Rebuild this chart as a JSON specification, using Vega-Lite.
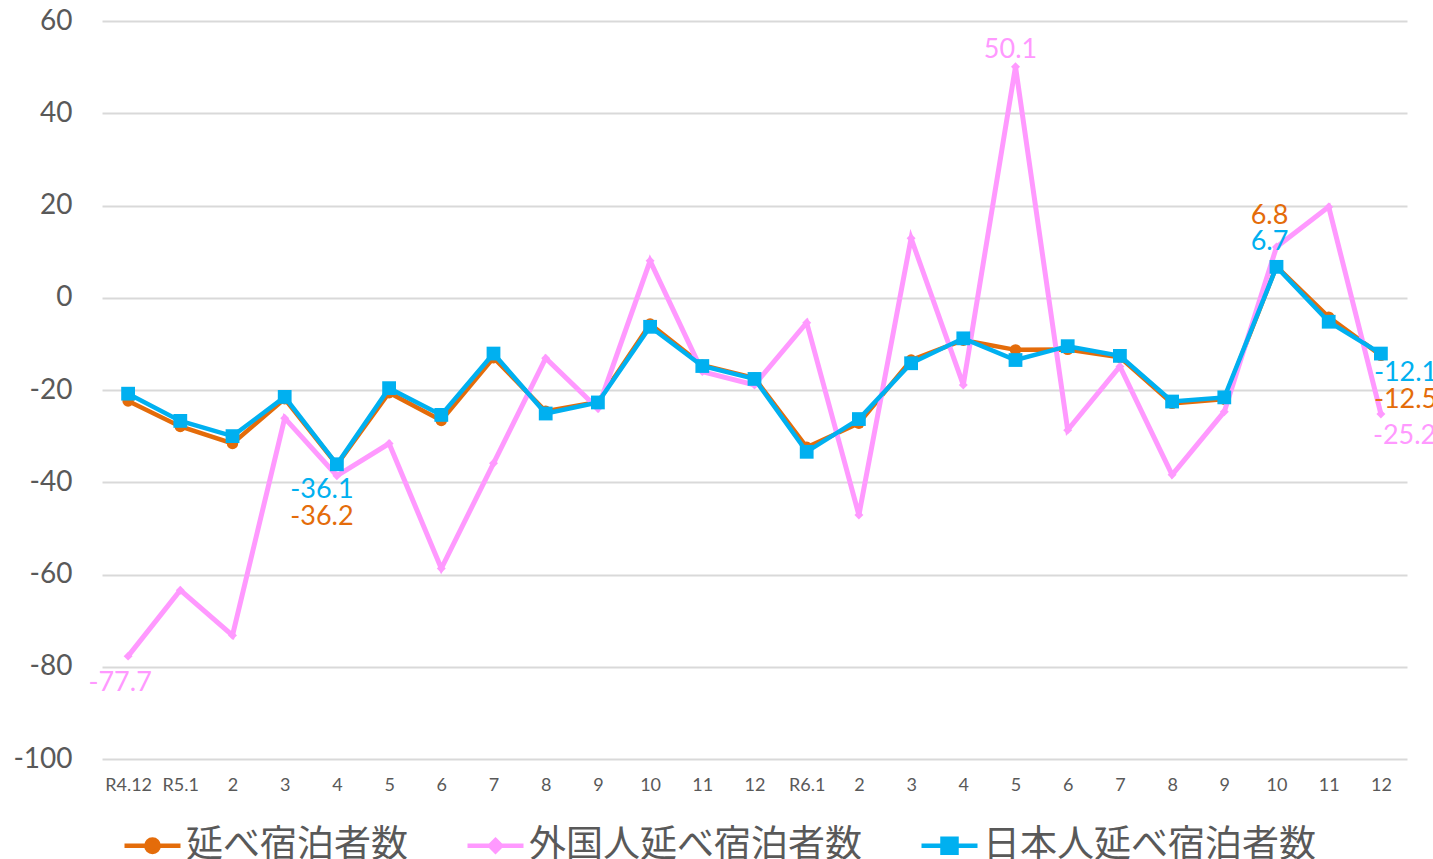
{
  "$schema": "https://vega.github.io/schema/vega-lite/v6.json",
  "width": 1305,
  "height": 738,
  "autosize": {"type": "none"},
  "padding": {"left": 102, "top": 21, "right": 26, "bottom": 100},
  "background": "white",
  "config": {"view": {"stroke": null}},
  "datasets": {
    "note": [{"note": "※数値は最新月、各年最高値、各年最低値を記載"}]
  },
  "data": {"values": [
    {"m": "R4.12", "s": "延べ宿泊者数", "v": -22.4},
    {"m": "R5.1", "s": "延べ宿泊者数", "v": -27.9},
    {"m": "R5.2", "s": "延べ宿泊者数", "v": -31.6},
    {"m": "R5.3", "s": "延べ宿泊者数", "v": -21.9},
    {"m": "R5.4", "s": "延べ宿泊者数", "v": -36.2},
    {"m": "R5.5", "s": "延べ宿泊者数", "v": -20.6},
    {"m": "R5.6", "s": "延べ宿泊者数", "v": -26.6},
    {"m": "R5.7", "s": "延べ宿泊者数", "v": -13.0},
    {"m": "R5.8", "s": "延べ宿泊者数", "v": -24.6},
    {"m": "R5.9", "s": "延べ宿泊者数", "v": -22.6},
    {"m": "R5.10", "s": "延べ宿泊者数", "v": -5.7},
    {"m": "R5.11", "s": "延べ宿泊者数", "v": -14.6},
    {"m": "R5.12", "s": "延べ宿泊者数", "v": -17.4},
    {"m": "R6.1", "s": "延べ宿泊者数", "v": -32.4},
    {"m": "R6.2", "s": "延べ宿泊者数", "v": -27.2},
    {"m": "R6.3", "s": "延べ宿泊者数", "v": -13.5},
    {"m": "R6.4", "s": "延べ宿泊者数", "v": -9.2},
    {"m": "R6.5", "s": "延べ宿泊者数", "v": -11.3},
    {"m": "R6.6", "s": "延べ宿泊者数", "v": -11.2},
    {"m": "R6.7", "s": "延べ宿泊者数", "v": -12.9},
    {"m": "R6.8", "s": "延べ宿泊者数", "v": -22.9},
    {"m": "R6.9", "s": "延べ宿泊者数", "v": -22.0},
    {"m": "R6.10", "s": "延べ宿泊者数", "v": 6.8},
    {"m": "R6.11", "s": "延べ宿泊者数", "v": -4.2},
    {"m": "R6.12", "s": "延べ宿泊者数", "v": -12.5},
    {"m": "R4.12", "s": "外国人延べ宿泊者数", "v": -77.7},
    {"m": "R5.1", "s": "外国人延べ宿泊者数", "v": -63.4},
    {"m": "R5.2", "s": "外国人延べ宿泊者数", "v": -73.2},
    {"m": "R5.3", "s": "外国人延べ宿泊者数", "v": -26.1},
    {"m": "R5.4", "s": "外国人延べ宿泊者数", "v": -38.6},
    {"m": "R5.5", "s": "外国人延べ宿泊者数", "v": -31.6},
    {"m": "R5.6", "s": "外国人延べ宿泊者数", "v": -58.7},
    {"m": "R5.7", "s": "外国人延べ宿泊者数", "v": -35.9},
    {"m": "R5.8", "s": "外国人延べ宿泊者数", "v": -13.1},
    {"m": "R5.9", "s": "外国人延べ宿泊者数", "v": -24.0},
    {"m": "R5.10", "s": "外国人延べ宿泊者数", "v": 8.0},
    {"m": "R5.11", "s": "外国人延べ宿泊者数", "v": -16.0},
    {"m": "R5.12", "s": "外国人延べ宿泊者数", "v": -18.9},
    {"m": "R6.1", "s": "外国人延べ宿泊者数", "v": -5.4},
    {"m": "R6.2", "s": "外国人延べ宿泊者数", "v": -47.1},
    {"m": "R6.3", "s": "外国人延べ宿泊者数", "v": 12.9},
    {"m": "R6.4", "s": "外国人延べ宿泊者数", "v": -18.9},
    {"m": "R6.5", "s": "外国人延べ宿泊者数", "v": 50.1},
    {"m": "R6.6", "s": "外国人延べ宿泊者数", "v": -28.7},
    {"m": "R6.7", "s": "外国人延べ宿泊者数", "v": -14.9},
    {"m": "R6.8", "s": "外国人延べ宿泊者数", "v": -38.4},
    {"m": "R6.9", "s": "外国人延べ宿泊者数", "v": -24.7},
    {"m": "R6.10", "s": "外国人延べ宿泊者数", "v": 11.0},
    {"m": "R6.11", "s": "外国人延べ宿泊者数", "v": 19.7},
    {"m": "R6.12", "s": "外国人延べ宿泊者数", "v": -25.2},
    {"m": "R4.12", "s": "日本人延べ宿泊者数", "v": -20.8},
    {"m": "R5.1", "s": "日本人延べ宿泊者数", "v": -26.7},
    {"m": "R5.2", "s": "日本人延べ宿泊者数", "v": -30.0},
    {"m": "R5.3", "s": "日本人延べ宿泊者数", "v": -21.5},
    {"m": "R5.4", "s": "日本人延べ宿泊者数", "v": -36.1},
    {"m": "R5.5", "s": "日本人延べ宿泊者数", "v": -19.6},
    {"m": "R5.6", "s": "日本人延べ宿泊者数", "v": -25.4},
    {"m": "R5.7", "s": "日本人延べ宿泊者数", "v": -12.1},
    {"m": "R5.8", "s": "日本人延べ宿泊者数", "v": -25.1},
    {"m": "R5.9", "s": "日本人延べ宿泊者数", "v": -22.7},
    {"m": "R5.10", "s": "日本人延べ宿泊者数", "v": -6.3},
    {"m": "R5.11", "s": "日本人延べ宿泊者数", "v": -14.8},
    {"m": "R5.12", "s": "日本人延べ宿泊者数", "v": -17.6},
    {"m": "R6.1", "s": "日本人延べ宿泊者数", "v": -33.4},
    {"m": "R6.2", "s": "日本人延べ宿泊者数", "v": -26.3},
    {"m": "R6.3", "s": "日本人延べ宿泊者数", "v": -14.2},
    {"m": "R6.4", "s": "日本人延べ宿泊者数", "v": -8.8},
    {"m": "R6.5", "s": "日本人延べ宿泊者数", "v": -13.5},
    {"m": "R6.6", "s": "日本人延べ宿泊者数", "v": -10.5},
    {"m": "R6.7", "s": "日本人延べ宿泊者数", "v": -12.6},
    {"m": "R6.8", "s": "日本人延べ宿泊者数", "v": -22.5},
    {"m": "R6.9", "s": "日本人延べ宿泊者数", "v": -21.6},
    {"m": "R6.10", "s": "日本人延べ宿泊者数", "v": 6.7},
    {"m": "R6.11", "s": "日本人延べ宿泊者数", "v": -5.2},
    {"m": "R6.12", "s": "日本人延べ宿泊者数", "v": -12.1}
  ]},
  "encoding": {
    "x": {
      "field": "m",
      "type": "ordinal",
      "scale": {
        "type": "point",
        "padding": 0.5,
        "domain": ["R4.12","R5.1","R5.2","R5.3","R5.4","R5.5","R5.6","R5.7","R5.8","R5.9","R5.10","R5.11","R5.12","R6.1","R6.2","R6.3","R6.4","R6.5","R6.6","R6.7","R6.8","R6.9","R6.10","R6.11","R6.12"]
      },
      "axis": {
        "title": null,
        "domain": false,
        "ticks": false,
        "grid": false,
        "labelAngle": 0,
        "labelFont": "Lato",
        "labelFontSize": 18,
        "labelColor": "#595959",
        "labelBaseline": "middle",
        "labelPadding": 26,
        "labelExpr": "datum.value == 'R4.12' || slice(datum.value, -2) == '.1' ? datum.value : split(datum.value, '.')[1]"
      }
    },
    "y": {
      "field": "v",
      "type": "quantitative",
      "scale": {"domain": [-100, 60], "nice": false, "zero": false},
      "axis": {
        "title": null,
        "domain": false,
        "ticks": false,
        "values": [-100, -80, -60, -40, -20, 0, 20, 40, 60],
        "grid": true,
        "gridColor": "#D9D9D9",
        "gridWidth": 2,
        "labelFont": "Lato",
        "labelFontSize": 28,
        "labelColor": "#595959",
        "labelPadding": 30,
        "labelExpr": "replace(datum.label, '−', '-')"
      }
    }
  },
  "layer": [
    {
      "transform": [{"filter": "datum.s == '延べ宿泊者数'"}],
      "mark": {"type": "line", "strokeWidth": 4.5, "point": {"shape": "circle", "size": 130, "filled": true}},
      "encoding": {
        "color": {
          "field": "s",
          "type": "nominal",
          "scale": {
            "domain": ["延べ宿泊者数", "外国人延べ宿泊者数", "日本人延べ宿泊者数"],
            "range": ["#E46C0A", "#FF99FF", "#00B0F0"]
          },
          "legend": {
            "title": null,
            "orient": "none",
            "direction": "horizontal",
            "legendX": 20,
            "legendY": 794,
            "columnPadding": 50,
            "labelOffset": 3,
            "labelFont": "Noto Sans CJK JP",
            "labelFontSize": 37,
            "labelColor": "#595959",
            "labelLimit": 600,
            "symbolSize": 3136,
            "symbolStrokeWidth": 4.5,
            "symbolType": "M-1,0H1M-0.25,-0.25H0.25V0.25H-0.25Z",
            "encode": {
              "symbols": {
                "update": {
                  "fill": {"scale": "color", "field": "value"},
                  "stroke": {"scale": "color", "field": "value"},
                  "shape": {"signal": "datum.value == '延べ宿泊者数' ? 'M-1,0H1M0.22,0A0.22,0.22,0,1,1,-0.22,0A0.22,0.22,0,1,1,0.22,0Z' : datum.value == '外国人延べ宿泊者数' ? 'M-1,0H1M0,-0.2L0.2,0L0,0.2L-0.2,0Z' : 'M-1,0H1M-0.25,-0.25H0.25V0.25H-0.25Z'"}
                }
              }
            }
          }
        }
      }
    },
    {
      "transform": [{"filter": "datum.s == '外国人延べ宿泊者数'"}],
      "mark": {"type": "line", "strokeWidth": 5, "point": {"shape": "diamond", "size": 80, "filled": true}},
      "encoding": {"color": {"field": "s", "type": "nominal"}}
    },
    {
      "transform": [{"filter": "datum.s == '日本人延べ宿泊者数'"}],
      "mark": {"type": "line", "strokeWidth": 4.5, "point": {"shape": "square", "size": 190, "filled": true}},
      "encoding": {"color": {"field": "s", "type": "nominal"}}
    },
    {
      "data": {"name": "note"},
      "mark": {"type": "text", "font": "Noto Sans CJK JP", "fontSize": 25, "fill": "#000000", "opacity": 1, "align": "right", "baseline": "alphabetic", "dx": -30, "dy": 6, "clip": false},
      "encoding": {
        "x": {"datum": "R6.12"},
        "y": {"datum": 60},
        "text": {"field": "note", "type": "nominal"}
      }
    },
    {
      "transform": [{"filter": "datum.s == '外国人延べ宿泊者数' && datum.m == 'R4.12'"}],
      "mark": {"type": "text", "font": "Lato", "fontSize": 27, "color": "#FF99FF", "align": "center", "baseline": "middle", "dx": -8, "dy": 27, "text": {"expr": "replace(format(datum.v, '.1f'), '−', '-')"}}
    },
    {
      "transform": [{"filter": "datum.s == '日本人延べ宿泊者数' && datum.m == 'R5.4'"}],
      "mark": {"type": "text", "font": "Lato", "fontSize": 27, "color": "#00B0F0", "align": "center", "baseline": "middle", "dx": -15, "dy": 26, "text": {"expr": "replace(format(datum.v, '.1f'), '−', '-')"}}
    },
    {
      "transform": [{"filter": "datum.s == '延べ宿泊者数' && datum.m == 'R5.4'"}],
      "mark": {"type": "text", "font": "Lato", "fontSize": 27, "color": "#E46C0A", "align": "center", "baseline": "middle", "dx": -15, "dy": 52, "text": {"expr": "replace(format(datum.v, '.1f'), '−', '-')"}}
    },
    {
      "transform": [{"filter": "datum.s == '外国人延べ宿泊者数' && datum.m == 'R6.5'"}],
      "mark": {"type": "text", "font": "Lato", "fontSize": 27, "color": "#FF99FF", "align": "center", "baseline": "middle", "dx": -5, "dy": -17, "text": {"expr": "replace(format(datum.v, '.1f'), '−', '-')"}}
    },
    {
      "transform": [{"filter": "datum.s == '延べ宿泊者数' && datum.m == 'R6.10'"}],
      "mark": {"type": "text", "font": "Lato", "fontSize": 27, "color": "#E46C0A", "align": "center", "baseline": "middle", "dx": -7, "dy": -50, "text": {"expr": "replace(format(datum.v, '.1f'), '−', '-')"}}
    },
    {
      "transform": [{"filter": "datum.s == '日本人延べ宿泊者数' && datum.m == 'R6.10'"}],
      "mark": {"type": "text", "font": "Lato", "fontSize": 27, "color": "#00B0F0", "align": "center", "baseline": "middle", "dx": -7, "dy": -25, "text": {"expr": "replace(format(datum.v, '.1f'), '−', '-')"}}
    },
    {
      "transform": [{"filter": "datum.s == '日本人延べ宿泊者数' && datum.m == 'R6.12'"}],
      "mark": {"type": "text", "font": "Lato", "fontSize": 27, "color": "#00B0F0", "align": "left", "baseline": "middle", "dx": -7, "dy": 19, "text": {"expr": "replace(format(datum.v, '.1f'), '−', '-')"}}
    },
    {
      "transform": [{"filter": "datum.s == '延べ宿泊者数' && datum.m == 'R6.12'"}],
      "mark": {"type": "text", "font": "Lato", "fontSize": 27, "color": "#E46C0A", "align": "left", "baseline": "middle", "dx": -7, "dy": 45, "text": {"expr": "replace(format(datum.v, '.1f'), '−', '-')"}}
    },
    {
      "transform": [{"filter": "datum.s == '外国人延べ宿泊者数' && datum.m == 'R6.12'"}],
      "mark": {"type": "text", "font": "Lato", "fontSize": 27, "color": "#FF99FF", "align": "left", "baseline": "middle", "dx": -8, "dy": 22, "text": {"expr": "replace(format(datum.v, '.1f'), '−', '-')"}}
    }
  ]
}
